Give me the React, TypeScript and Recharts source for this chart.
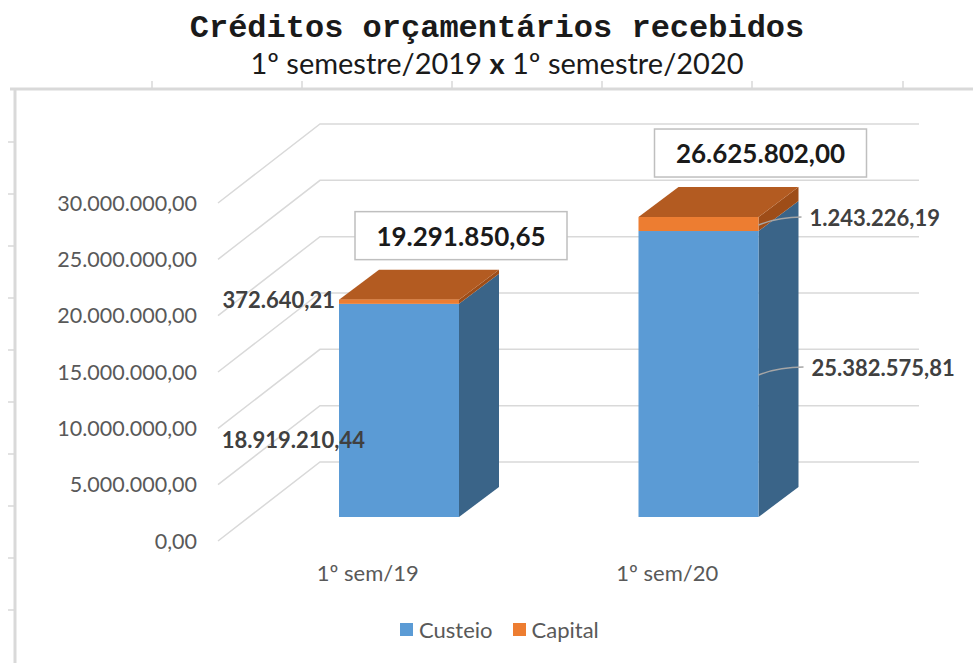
import React from 'react';
import { BarChart, Bar, XAxis, YAxis, CartesianGrid, Legend, LabelList } from 'recharts';

const categorias = ['1º sem/19', '1º sem/20'];
const custeio = [18919210.44, 25382575.81];
const capital = [372640.21, 1243226.19];
const yTicks = [0, 5000000, 10000000, 15000000, 20000000, 25000000, 30000000];
const ordemLegenda = ['Custeio', 'Capital'];

const dados = categorias.map((c, i) => ({ categoria: c, custeio: custeio[i], capital: capital[i] }));

const fmt = (v: number) =>
  v.toLocaleString('pt-BR', { minimumFractionDigits: 2, maximumFractionDigits: 2 });

// oblique 3d: front plane -> bar plane offset, bar depth, wall depth
const SHIFT_X = 31;
const SHIFT_Y = -24;
const DEPTH_X = 40;
const DEPTH_Y = -30;
const WALL_X = 102;
const WALL_Y = -79;

const FONT = 'Lato, "Open Sans", sans-serif';

const cores: any = {
  custeio: { front: '#5B9BD5', side: '#3A6488', top: '#4A7FB0' },
  capital: { front: '#ED7D31', side: '#9E4D18', top: '#B35B21' },
};

function Bloco(props: any) {
  const { x, y, width, height, serie } = props;
  if (width == null || height == null) return null;
  const c = cores[serie];
  const fx = x + SHIFT_X;
  const fy = y + SHIFT_Y;
  const side = `M${fx + width},${fy} L${fx + width + DEPTH_X},${fy + DEPTH_Y} L${fx + width + DEPTH_X},${fy + height + DEPTH_Y} L${fx + width},${fy + height} Z`;
  const top = `M${fx},${fy} L${fx + DEPTH_X},${fy + DEPTH_Y} L${fx + width + DEPTH_X},${fy + DEPTH_Y} L${fx + width},${fy} Z`;
  return (
    <g>
      <path d={side} fill={c.side} />
      {serie === 'capital' && <path d={top} fill={c.top} />}
      <rect x={fx} y={fy} width={width} height={height} fill={c.front} />
    </g>
  );
}

function RotuloSegmento(props: any) {
  const { x, y, width, height, value, index, serie } = props;
  const fx = x + SHIFT_X;
  const fy = y + SHIFT_Y;
  const meio = fy + height / 2;
  const txt = fmt(value);
  const estilo = { fontFamily: FONT, fontWeight: 700, fontSize: 22, fill: '#404040' };
  if (index === 0) {
    // first bar: labels on the left of the bar
    const ty = serie === 'capital' ? meio - 2 : meio + 29;
    const tx = serie === 'capital' ? fx - 4 : fx + 26;
    return (
      <text x={tx} y={ty} textAnchor="end" dominantBaseline="central" style={estilo}>
        {txt}
      </text>
    );
  }
  const x0 = fx + width;
  const x1 = x0 + (serie === 'capital' ? 43 : 45);
  const ty = meio - 7;
  return (
    <g>
      <path
        d={`M${x0},${meio + 1} Q${x0 + 20},${ty} ${x1},${ty}`}
        fill="none"
        stroke="#a6a6a6"
        strokeWidth={1.5}
      />
      <text x={x1 + 8} y={ty} dominantBaseline="central" style={estilo}>
        {txt}
      </text>
    </g>
  );
}

function RotuloTotal(props: any) {
  const { x, y, width, index } = props;
  const total = custeio[index] + capital[index];
  const cx = x + SHIFT_X + width / 2 + 62;
  const base = y + SHIFT_Y - 40;
  return (
    <g>
      <rect x={cx - 106} y={base - 48} width={212} height={48} fill="#fff" stroke="#bfbfbf" strokeWidth={1.5} />
      <text
        x={cx}
        y={base - 24}
        textAnchor="middle"
        dominantBaseline="central"
        style={{ fontFamily: FONT, fontWeight: 700, fontSize: 26, fill: '#1a1a1a' }}
      >
        {fmt(total)}
      </text>
    </g>
  );
}

function LinhaGrade(props: any) {
  const { x1, y1, x2 } = props;
  return (
    <path
      d={`M${x1},${y1} L${x1 + WALL_X},${y1 + WALL_Y} L${x2 + WALL_X},${y1 + WALL_Y}`}
      fill="none"
      stroke="#d9d9d9"
      strokeWidth={1.5}
    />
  );
}

function Legenda(props: any) {
  const itens = [...(props.payload || [])].sort(
    (a: any, b: any) => ordemLegenda.indexOf(a.value) - ordemLegenda.indexOf(b.value)
  );
  return (
    <div style={{ display: 'flex', alignItems: 'center', fontFamily: FONT, fontSize: 22, color: '#595959' }}>
      {itens.map((p: any) => (
        <div key={p.value} style={{ display: 'flex', alignItems: 'center', marginRight: 20 }}>
          <span style={{ width: 13, height: 13, background: p.color, display: 'inline-block', marginRight: 6 }} />
          <span>{p.value}</span>
        </div>
      ))}
    </div>
  );
}

function Moldura() {
  const ticksTopo = [152, 302, 452, 602, 752, 903];
  const ticksLado = [142, 194, 246, 298, 350, 402, 454, 506, 558, 610];
  return (
    <svg width={973} height={663} style={{ position: 'absolute', left: 0, top: 0, pointerEvents: 'none' }}>
      <line x1={10} y1={89} x2={973} y2={89} stroke="#d9d9d9" strokeWidth={3} />
      <line x1={15} y1={89} x2={15} y2={663} stroke="#d9d9d9" strokeWidth={3} />
      {ticksTopo.map((t) => (
        <line key={t} x1={t} y1={81} x2={t} y2={89} stroke="#d9d9d9" strokeWidth={1.5} />
      ))}
      {ticksLado.map((t) => (
        <line key={t} x1={8} y1={t} x2={15} y2={t} stroke="#d9d9d9" strokeWidth={1.5} />
      ))}
      <text
        x={497}
        y={28}
        textAnchor="middle"
        dominantBaseline="central"
        style={{ fontFamily: '"Liberation Mono", monospace', fontWeight: 700, fontSize: 32, fill: '#1a1a1a' }}
      >
        Créditos orçamentários recebidos
      </text>
      <text x={497} y={62} textAnchor="middle" dominantBaseline="central" style={{ fontFamily: FONT, fontSize: 29, fill: '#1a1a1a' }}>
        1º semestre/2019 <tspan fontWeight={700}>x</tspan> 1º semestre/2020
      </text>
    </svg>
  );
}

export default function App() {
  return (
    <div style={{ position: 'relative', width: 973, height: 663, background: '#fff' }}>
      <style>{'body{margin:0}'}</style>
      <Moldura />
      <BarChart
        width={973}
        height={663}
        data={dados}
        margin={{ top: 203, right: 156, bottom: 82, left: 0 }}
        barSize={120}
      >
        <CartesianGrid vertical={false} horizontal={(p: any) => <LinhaGrade key={p.key} {...p} />} />
        <XAxis
          dataKey="categoria"
          height={40}
          axisLine={false}
          tickLine={false}
          tickSize={0}
          tickMargin={24}
          tick={{ fontFamily: FONT, fontSize: 22, fill: '#595959' }}
        />
        <YAxis
          width={218}
          domain={[0, 30000000]}
          ticks={yTicks}
          interval={0}
          axisLine={false}
          tickLine={false}
          tickSize={0}
          tickMargin={21}
          tickFormatter={fmt}
          tick={{ fontFamily: FONT, fontSize: 21.5, fill: '#595959' }}
        />
        <Legend
          layout="horizontal"
          verticalAlign="middle"
          align="center"
          content={<Legenda />}
          wrapperStyle={{ position: 'absolute', top: 616, left: 400, width: 300, height: 28 }}
        />
        <Bar
          dataKey="custeio"
          name="Custeio"
          stackId="a"
          fill="#5B9BD5"
          isAnimationActive={false}
          shape={(p: any) => <Bloco {...p} serie="custeio" />}
        >
          <LabelList dataKey="custeio" content={(p: any) => <RotuloSegmento {...p} serie="custeio" />} />
        </Bar>
        <Bar
          dataKey="capital"
          name="Capital"
          stackId="a"
          fill="#ED7D31"
          isAnimationActive={false}
          shape={(p: any) => <Bloco {...p} serie="capital" />}
        >
          <LabelList dataKey="capital" content={(p: any) => <RotuloSegmento {...p} serie="capital" />} />
          <LabelList dataKey="capital" content={(p: any) => <RotuloTotal {...p} />} />
        </Bar>
      </BarChart>
    </div>
  );
}
